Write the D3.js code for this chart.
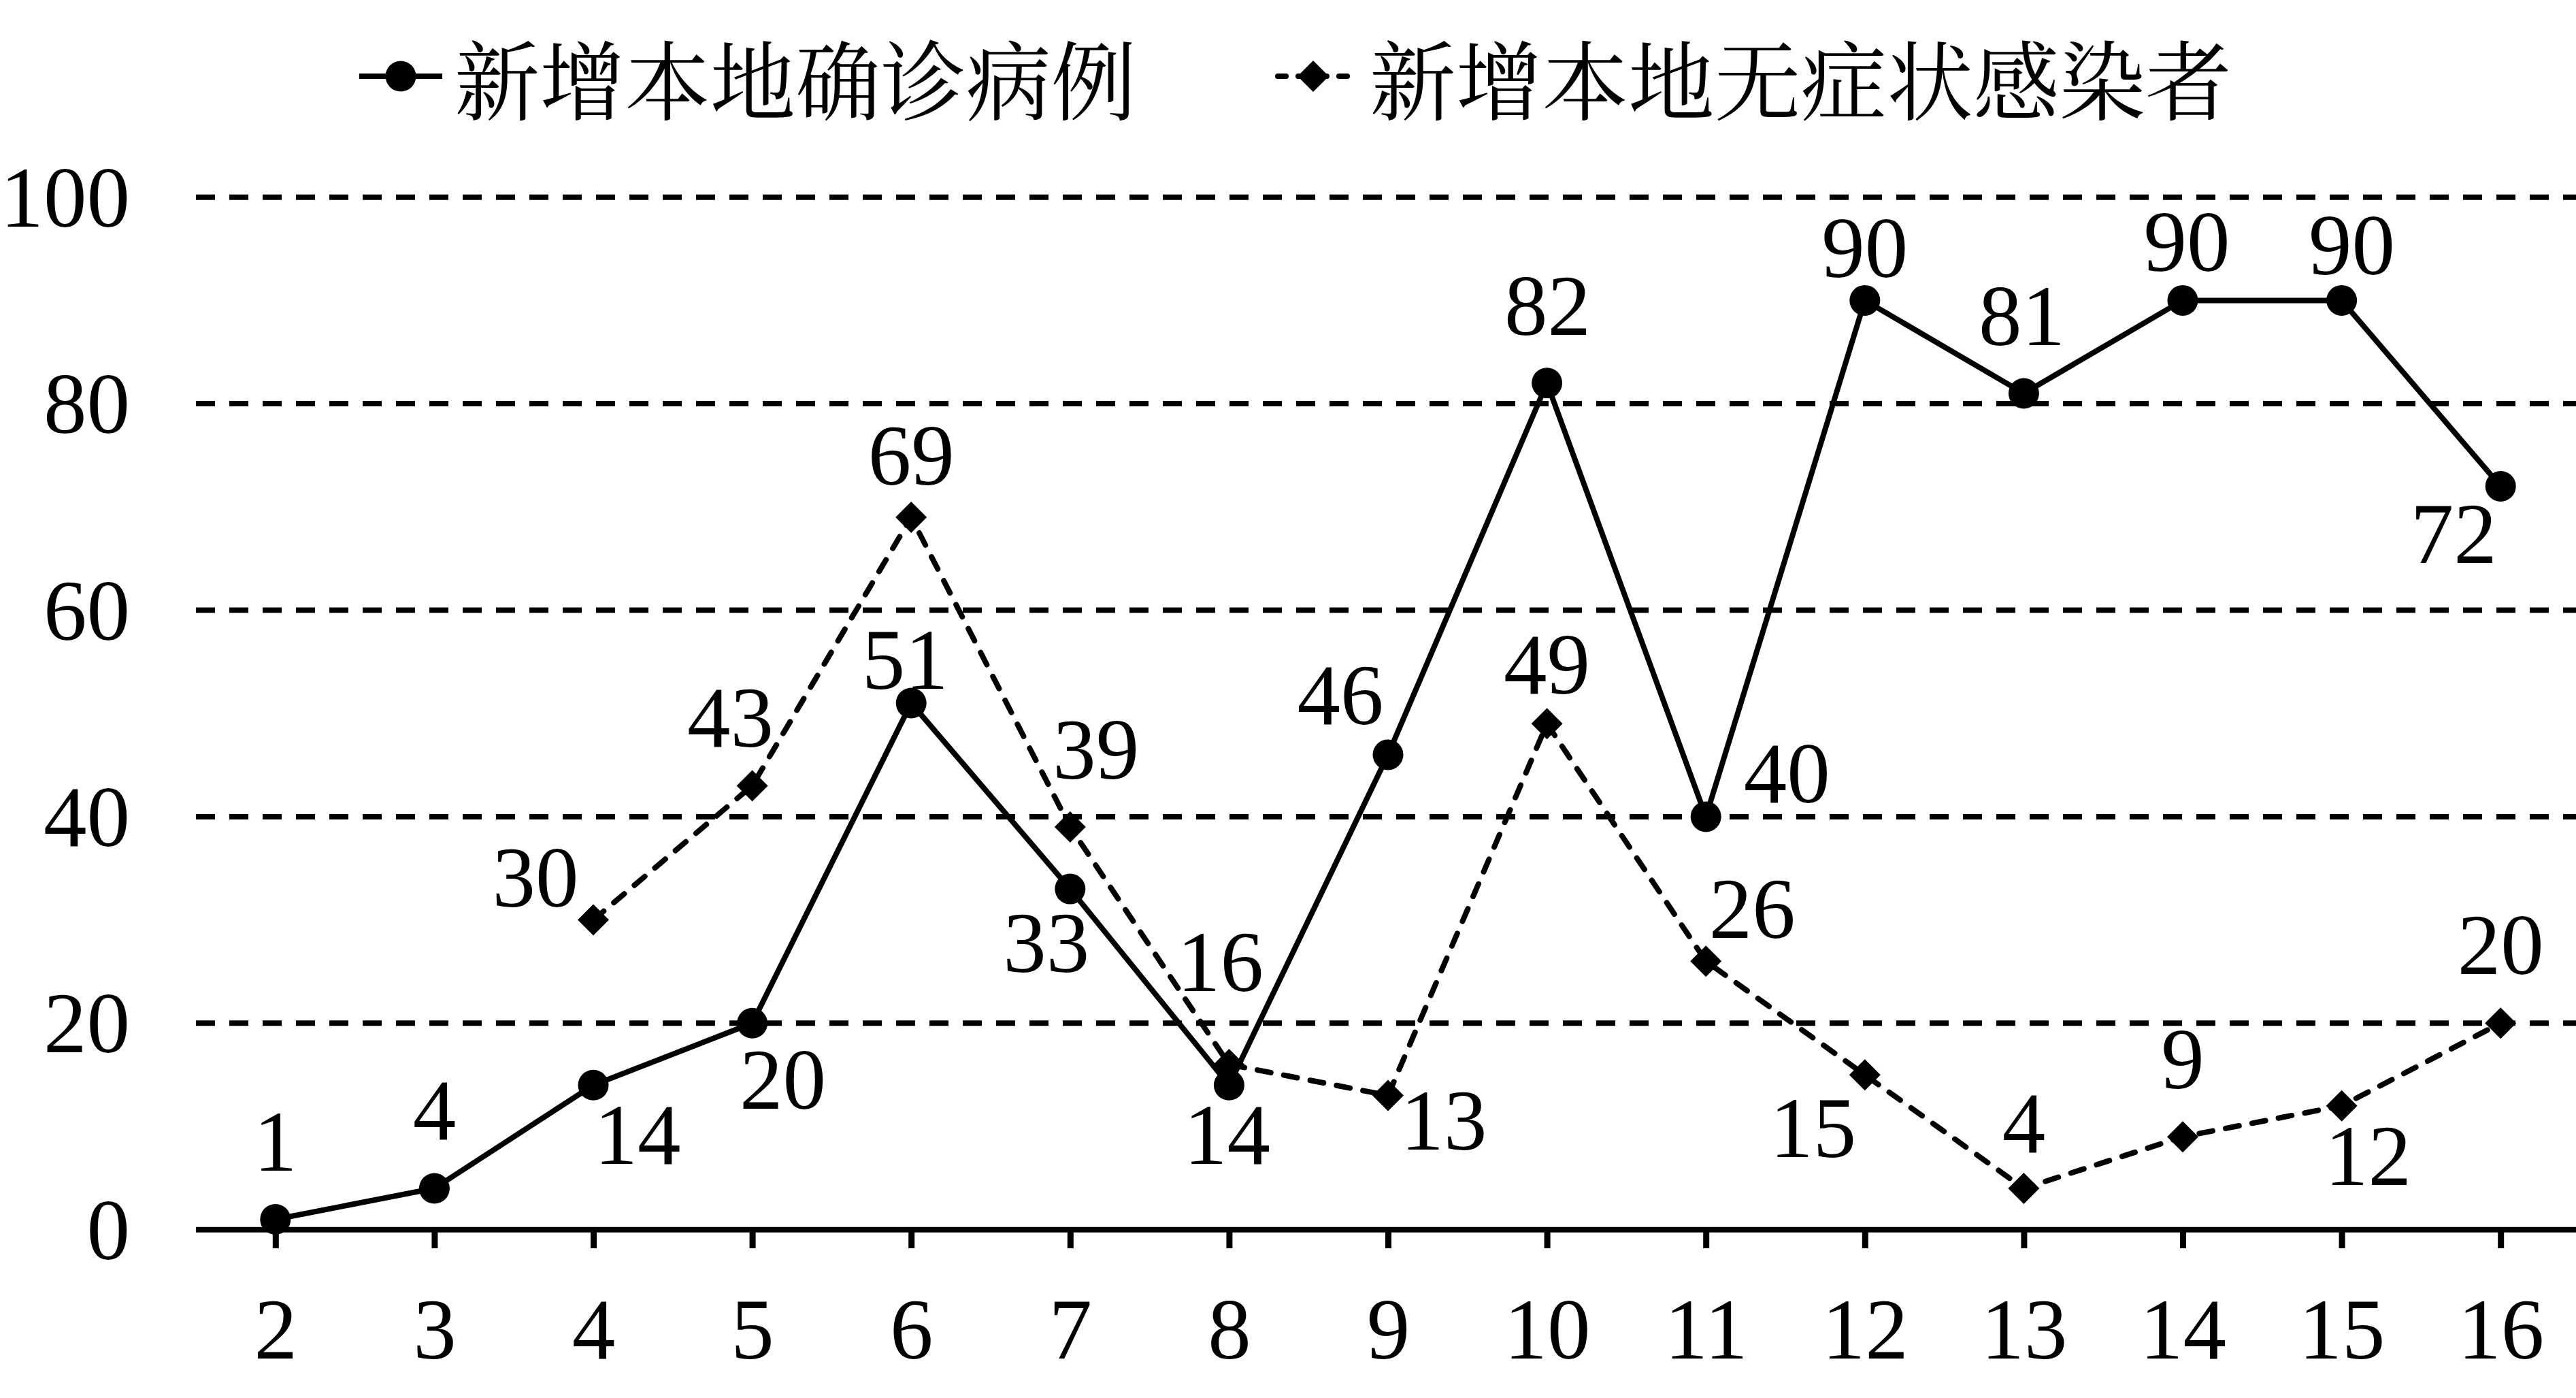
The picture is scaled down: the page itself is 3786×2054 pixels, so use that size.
<!DOCTYPE html>
<html>
<head>
<meta charset="utf-8">
<script src="https://cdn.jsdelivr.net/npm/d3@7"></script>
<style>
  html, body { margin: 0; padding: 0; background: #fff; }
  svg { display: block; }
</style>
</head>
<body>
<script>
// ---------- data ----------
const categories = ["2","3","4","5","6","7","8","9","10","11","12","13","14","15","16"];
const confirmedName = "新增本地确诊病例";
const asymptomaticName = "新增本地无症状感染者";
const confirmedValues = [1,4,14,20,51,33,14,46,82,40,90,81,90,90,72];
const asymCategories = ["4","5","6","7","8","9","10","11","12","13","14","15","16"];
const asymValues = [30,43,69,39,16,13,49,26,15,4,9,12,20];
const yTicks = [0,20,40,60,80,100];

// ---------- layout (label placement offsets, px) ----------
const confirmedLabelOffset = [[0,-115],[0,-115],[65,73],[45,83],[-9,-64],[-35,79],[-3,73],[-70,-88],[1,-114],[119,-64],[0,-77],[-3,-114],[6,-86],[15,-81],[-69,70]];
const asymLabelOffset = [[-85,-63],[-32,-100],[0,-91],[38,-114],[-13,-151],[82,37],[0,-87],[68,-77],[-76,78],[0,-96],[0,-114],[39,73],[0,-115]];

const W = 3786, H = 2054;
const serif = "'Times New Roman', 'Liberation Serif', 'DejaVu Serif', serif";
const cjk = "'Noto Serif CJK SC', 'Noto Sans CJK SC', sans-serif";
const fs = 127;

const svg = d3.select("body").append("svg").attr("width", W).attr("height", H);
svg.append("rect").attr("width", W).attr("height", H).attr("fill", "#fff");

const x = d3.scalePoint().domain(categories).range([288, 3792]).padding(0.5);
const y = d3.scaleLinear().domain([0, 100]).range([1806.7, 289.7]);

// gridlines
svg.append("g").selectAll("line").data(yTicks.filter(t => t > 0)).join("line")
  .attr("x1", 288).attr("x2", W)
  .attr("y1", d => y(d)).attr("y2", d => y(d))
  .attr("stroke", "#000").attr("stroke-width", 8).attr("stroke-dasharray", "28,21");

// y tick labels
svg.append("g").selectAll("text").data(yTicks).join("text")
  .attr("x", 191).attr("y", d => y(d) + 43)
  .attr("text-anchor", "end")
  .attr("font-family", serif).attr("font-size", fs)
  .text(d => d);

// x axis
const xAxis = d3.axisBottom(x).tickSize(0).tickSizeOuter(0).tickPadding(0);
const gx = svg.append("g").attr("transform", `translate(0,${y(0)})`).call(xAxis);
gx.select(".domain").remove();
gx.selectAll(".tick text").remove();
svg.append("line").attr("x1", 288).attr("x2", W).attr("y1", y(0)).attr("y2", y(0))
  .attr("stroke", "#000").attr("stroke-width", 8);
gx.selectAll(".tick").append("line")
  .attr("y1", 0).attr("y2", 1834 - y(0))
  .attr("stroke", "#000").attr("stroke-width", 9);
gx.selectAll(".tick").append("text")
  .attr("y", 1996 - y(0))
  .attr("text-anchor", "middle").attr("fill", "#000")
  .attr("font-family", serif).attr("font-size", fs)
  .text(d => d);

// series data
const confirmed = categories.map((c, i) => ({c, v: confirmedValues[i], off: confirmedLabelOffset[i]}));
const asym = asymCategories.map((c, i) => ({c, v: asymValues[i], off: asymLabelOffset[i]}));

const line = d3.line().x(d => x(d.c)).y(d => y(d.v));

// asymptomatic dashed line
svg.append("path").datum(asym).attr("d", line)
  .attr("fill", "none").attr("stroke", "#000").attr("stroke-width", 8)
  .attr("stroke-dasharray", "20,19.5").attr("stroke-linecap", "round");
const diamond = d3.symbol().type(d3.symbolSquare).size(1058);
svg.append("g").selectAll("path").data(asym).join("path")
  .attr("d", diamond)
  .attr("transform", d => `translate(${x(d.c)},${y(d.v)}) rotate(45)`)
  .attr("fill", "#000");

// confirmed solid line
svg.append("path").datum(confirmed).attr("d", line)
  .attr("fill", "none").attr("stroke", "#000").attr("stroke-width", 8)
  .attr("stroke-linejoin", "miter");
svg.append("g").selectAll("circle").data(confirmed).join("circle")
  .attr("cx", d => x(d.c)).attr("cy", d => y(d.v)).attr("r", 22.5)
  .attr("fill", "#000");

// data labels
function labels(data) {
  svg.append("g").selectAll("text").data(data).join("text")
    .attr("x", d => x(d.c) + d.off[0])
    .attr("y", d => y(d.v) + d.off[1] + 43)
    .attr("text-anchor", "middle")
    .attr("font-family", serif).attr("font-size", fs)
    .text(d => d.v);
}
labels(confirmed);
labels(asym);

// legend
const ly = 112;
const lg = svg.append("g");
lg.append("line").attr("x1", 528).attr("x2", 650).attr("y1", ly).attr("y2", ly)
  .attr("stroke", "#000").attr("stroke-width", 8);
lg.append("circle").attr("cx", 589).attr("cy", ly).attr("r", 22.5).attr("fill", "#000");
lg.append("text").attr("x", 668).attr("y", ly)
  .attr("dominant-baseline", "central")
  .attr("font-family", cjk).attr("font-size", fs)
  .attr("textLength", 1002).attr("lengthAdjust", "spacingAndGlyphs")
  .text(confirmedName);

lg.append("line").attr("x1", 1878).attr("x2", 1981).attr("y1", ly).attr("y2", ly)
  .attr("stroke", "#000").attr("stroke-width", 8)
  .attr("stroke-dasharray", "12,18").attr("stroke-linecap", "round");
lg.append("path").attr("d", diamond)
  .attr("transform", `translate(1930,${ly}) rotate(45)`).attr("fill", "#000");
lg.append("text").attr("x", 2013).attr("y", ly)
  .attr("dominant-baseline", "central")
  .attr("font-family", cjk).attr("font-size", fs)
  .attr("textLength", 1267).attr("lengthAdjust", "spacingAndGlyphs")
  .text(asymptomaticName);
</script>
</body>
</html>
